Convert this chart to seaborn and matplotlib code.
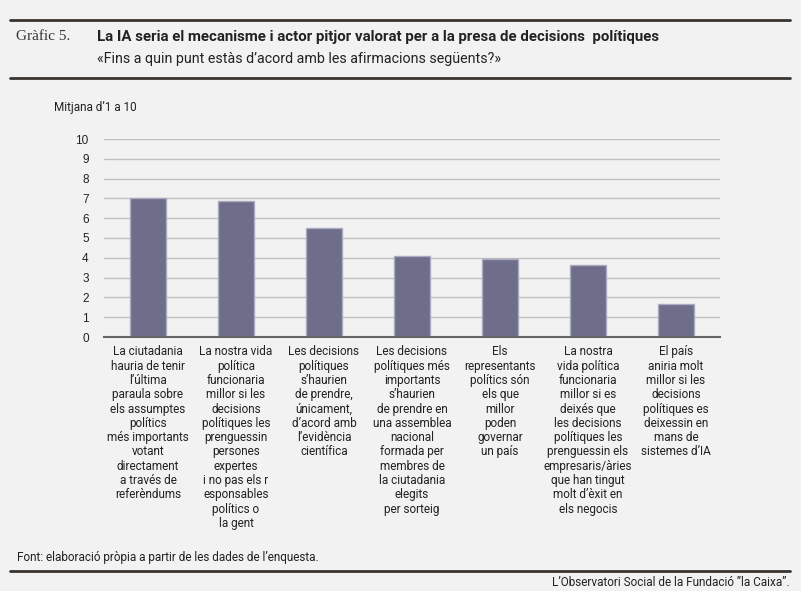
import matplotlib
matplotlib.use("Agg")
import matplotlib.pyplot as plt
import seaborn as sns
import pandas as pd

# Data
statements = [
    "La ciutadania\nhauria de tenir\nl’última\nparaula sobre\nels assumptes\npolítics\nmés importants\nvotant\ndirectament\na través de\nreferèndums",
    "La nostra vida\npolítica\nfuncionaria\nmillor si les\ndecisions\npolítiques les\nprenguessin\npersones\nexpertes\ni no pas els r\nesponsables\npolítics o\nla gent",
    "Les decisions\npolítiques\ns’haurien\nde prendre,\núnicament,\nd’acord amb\nl’evidència\ncientífica",
    "Les decisions\npolítiques més\nimportants\ns’haurien\nde prendre en\nuna assemblea\nnacional\nformada per\nmembres de\nla ciutadania\nelegits\nper sorteig",
    "Els\nrepresentants\npolítics són\nels que\nmillor\npoden\ngovernar\nun país",
    "La nostra\nvida política\nfuncionaria\nmillor si es\ndeixés que\nles decisions\npolítiques les\nprenguessin els\nempresaris/àries\nque han tingut\nmolt d’èxit en\nels negocis",
    "El país\naniria molt\nmillor si les\ndecisions\npolítiques es\ndeixessin en\nmans de\nsistemes d’IA",
]
means = [7.0, 6.87, 5.52, 4.1, 3.92, 3.62, 1.65]
y_ticks = list(range(0, 11))

BG = "#f2f2f2"
BAR = "#6e6e8a"
RULE = "#3a3430"

sns.set_theme(style="white")
plt.rcParams["font.family"] = ["Roboto", "DejaVu Sans"]

fig = plt.figure(figsize=(8.01, 5.91), dpi=100, facecolor=BG)
W, H = 801, 591
ax = fig.add_axes([104 / W, 1 - 337 / H, (720 - 104) / W, (337 - 139) / H])
ax.set_facecolor(BG)

df = pd.DataFrame({"afirmacio": statements, "mitjana": means})
sns.barplot(data=df, x="afirmacio", y="mitjana", color=BAR, saturation=1,
            width=0.4, edgecolor="#a9a9c0", linewidth=1, ax=ax, zorder=3)

ax.set_ylim(0, 10)
ax.set_yticks(y_ticks)
ax.set_yticklabels([str(t) for t in y_ticks], fontsize=8.5, color="#222222",
                   family=["Liberation Sans", "DejaVu Sans"])
ax.yaxis.grid(True, color="#c0c0c0", linewidth=1)
ax.set_axisbelow(True)
for s in ["top", "right", "left"]:
    ax.spines[s].set_visible(False)
ax.spines["bottom"].set_color("#666666")
ax.spines["bottom"].set_linewidth(1.5)
ax.spines["bottom"].set_zorder(4)
ax.tick_params(axis="y", length=0, pad=11)
ax.tick_params(axis="x", length=0, pad=6)
ax.set_xticks(range(len(statements)))
ax.set_xticklabels(statements, fontsize=8.5, color="#222222", linespacing=1.13, ha="center", va="top")
ax.set_xlabel("")
ax.set_ylabel("")

# Header
fig.lines.append(plt.Line2D([10 / W, 790 / W], [1 - 20 / H] * 2, transform=fig.transFigure, color=RULE, lw=2))
fig.lines.append(plt.Line2D([10 / W, 790 / W], [1 - 78 / H] * 2, transform=fig.transFigure, color=RULE, lw=2))
fig.text(16 / W, 1 - 37 / H, "Gràfic 5.", family=["Liberation Serif", "DejaVu Serif"], fontsize=11,
         color="#333333", va="center")
title = fig.text(97 / W, 1 - 37 / H, "La IA seria el mecanisme i actor pitjor valorat per a la presa de decisions  polítiques",
                 fontsize=11, fontweight="bold", color="#222222", va="center")
subtitle = fig.text(97 / W, 1 - 59 / H, "«Fins a quin punt estàs d’acord amb les afirmacions següents?»",
                    fontsize=10, color="#222222", va="center")

# shrink header texts so they span the same width as in the reference
renderer = fig.canvas.get_renderer()
for t, target in [(title, 564), (subtitle, 405)]:
    w = t.get_window_extent(renderer).width
    t.set_fontsize(t.get_fontsize() * target / w)

fig.text(54 / W, 1 - 108 / H, "Mitjana d’1 a 10", fontsize=8.5, color="#222222", va="center")

# Footer
fig.text(17 / W, 1 - 557 / H, "Font: elaboració pròpia a partir de les dades de l’enquesta.",
         fontsize=8.5, color="#222222", va="center")
fig.lines.append(plt.Line2D([10 / W, 790 / W], [1 - 571 / H] * 2, transform=fig.transFigure, color=RULE, lw=2))
fig.text(790 / W, 1 - 582 / H, "L’Observatori Social de la Fundació ”la Caixa”.",
         fontsize=8.5, color="#222222", va="center", ha="right")

fig.savefig("out.png", dpi=100, facecolor=BG)
